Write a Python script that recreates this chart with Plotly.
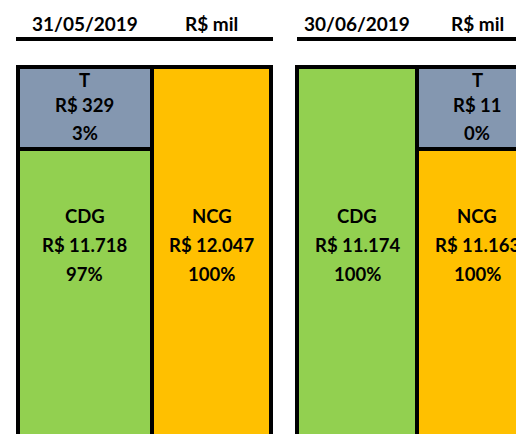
import plotly.graph_objects as go

# Working-capital snapshot per reporting date (values in R$ mil)
dates = ["31/05/2019", "30/06/2019"]
unit_label = "R$ mil"
cdg = [11718, 11174]   # capital de giro
ncg = [12047, 11163]   # necessidade de capital de giro
tes = [329, 11]        # saldo de tesouraria
labels = ["CDG", "NCG", "T"]

# Page geometry (pixels, y measured downward)
W, H = 516, 434
panel_edges = [[17.5, 152, 271], [297, 417, 537]]
box_top = 66.5
t_bottom = 149
bar_bottom = 520
header_y = 23.5
rule_y = 39
rule_x = [[16, 273], [297, 516]]
main_text_y = [216, 245, 274]
t_text_y = [80, 104.5, 133]

GREEN = "#92D050"
ORANGE = "#FFC000"
SLATE = "#8497B0"
FONT = "Lato"
CELL_FONT = dict(family=FONT, size=18.5, color="black", weight="bold")
HEAD_FONT = dict(family=FONT, size=19, color="black", weight="bold")


def brl(v):
    return "R$ " + f"{v:,}".replace(",", ".")


def pct(v, total):
    return f"{round(100 * v / total):.0f}%"


fig = go.Figure()
annotations = []
shapes = []

for i, date in enumerate(dates):
    left, mid, right = panel_edges[i]
    cols = [(left, mid), (mid, right)]
    vals = [cdg[i], ncg[i]]
    colors = [GREEN, ORANGE]
    total = max(vals)
    small = 0 if vals[0] < vals[1] else 1

    for c, (x0, x1) in enumerate(cols):
        top = t_bottom if c == small else box_top
        fig.add_trace(go.Bar(
            x=[(x0 + x1) / 2], y=[bar_bottom - top], base=[top], width=[x1 - x0],
            marker=dict(color=colors[c], line=dict(color="black", width=4)),
            hoverinfo="skip", showlegend=False,
        ))
        lines = [labels[c], brl(vals[c]), pct(vals[c], total)]
        for txt, yy in zip(lines, main_text_y):
            annotations.append(dict(x=(x0 + x1) / 2, y=yy, text=txt, showarrow=False,
                                    xref="x", yref="y", yanchor="middle", font=CELL_FONT))

    # treasury block stacked on top of the smaller column
    x0, x1 = cols[small]
    fig.add_trace(go.Bar(
        x=[(x0 + x1) / 2], y=[t_bottom - box_top], base=[box_top], width=[x1 - x0],
        marker=dict(color=SLATE, line=dict(color="black", width=4)),
        hoverinfo="skip", showlegend=False,
    ))
    for txt, yy in zip([labels[2], brl(tes[i]), pct(tes[i], total)], t_text_y):
        annotations.append(dict(x=(x0 + x1) / 2, y=yy, text=txt, showarrow=False,
                                xref="x", yref="y", yanchor="middle", font=CELL_FONT))

    # header: date and unit above a heavy rule
    for txt, (x0, x1) in zip([date, unit_label], cols):
        annotations.append(dict(x=(x0 + x1) / 2, y=header_y, text=txt, showarrow=False,
                                xref="x", yref="y", yanchor="middle", font=HEAD_FONT))
    shapes.append(dict(type="line", xref="x", yref="y", x0=rule_x[i][0], x1=rule_x[i][1],
                       y0=rule_y, y1=rule_y, line=dict(color="black", width=4)))

fig.update_layout(
    width=W, height=H, margin=dict(l=0, r=0, t=0, b=0),
    paper_bgcolor="white", plot_bgcolor="white",
    barmode="overlay", bargap=0,
    xaxis=dict(range=[0, W], visible=False, fixedrange=True),
    yaxis=dict(range=[H, 0], visible=False, fixedrange=True),
    annotations=annotations, shapes=shapes,
)

fig.write_html("out.html")
